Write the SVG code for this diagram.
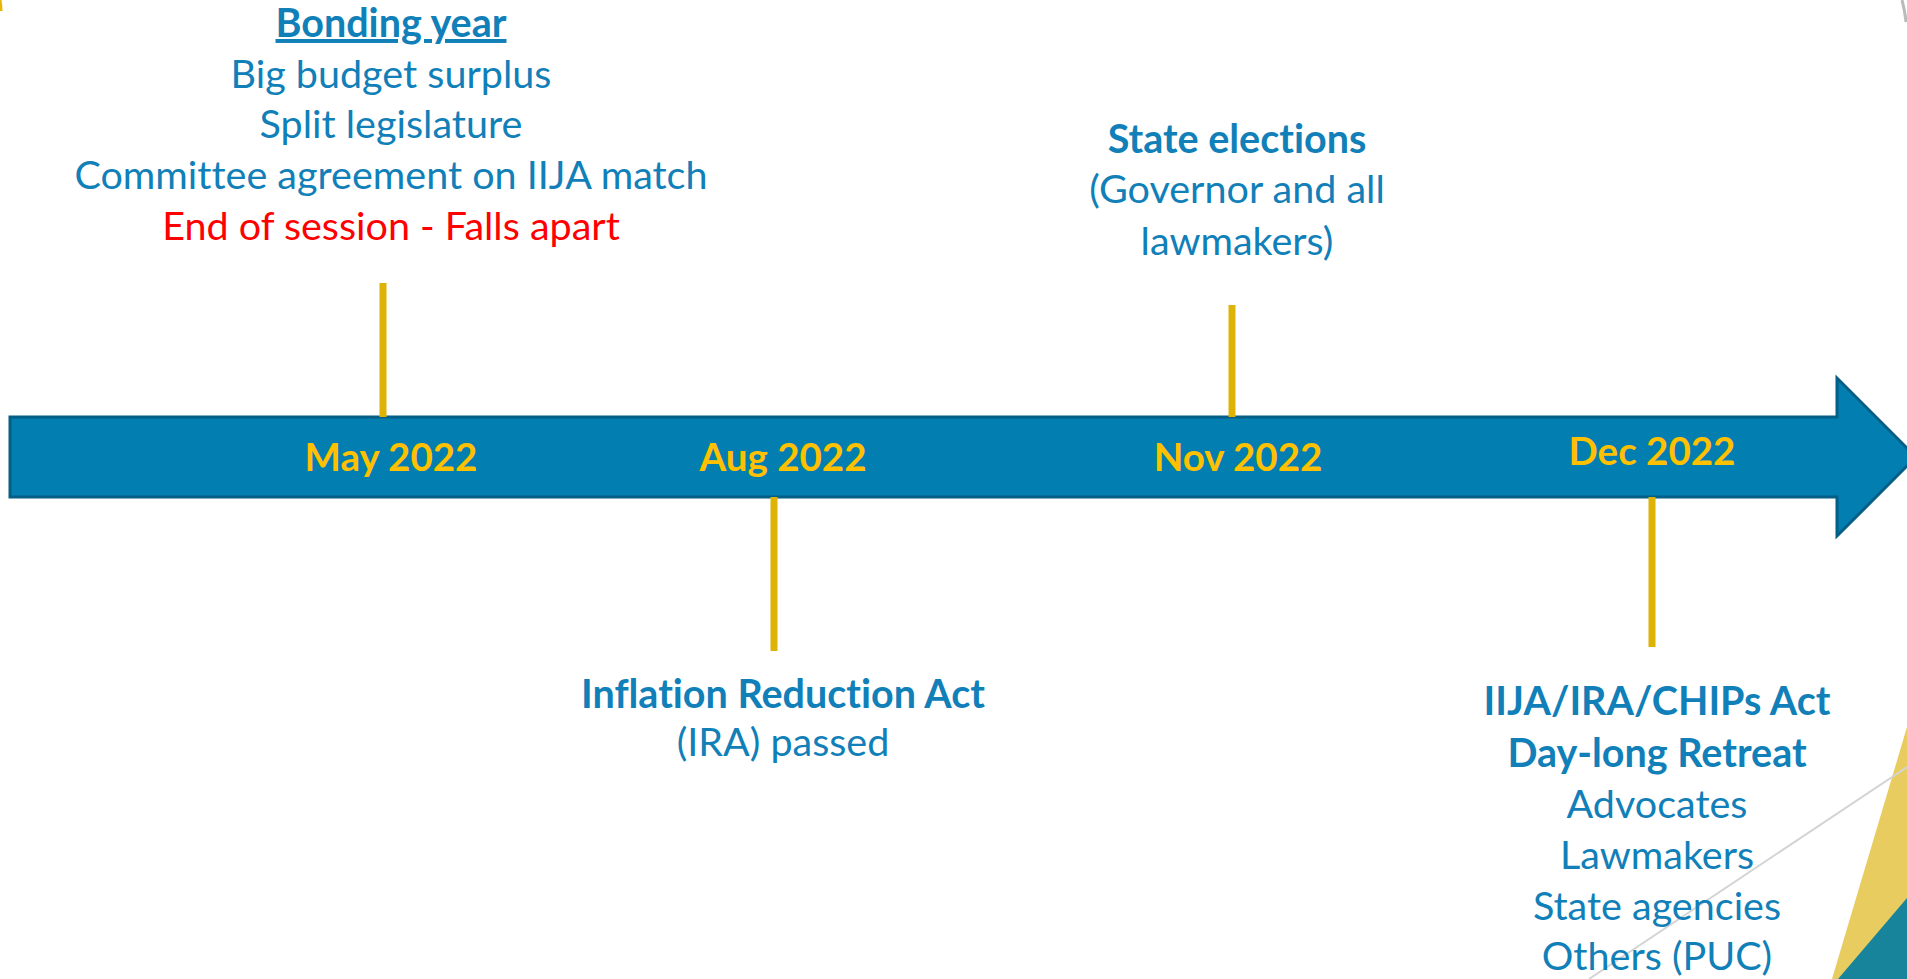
<svg xmlns="http://www.w3.org/2000/svg" width="1907" height="979" viewBox="0 0 1907 979">
  <style>
    .t { font-family: "Lato", "Liberation Sans", sans-serif; font-size: 39.5px; fill: #1180B8; text-anchor: middle; font-variant-ligatures: none; }
    .b { font-weight: bold; }
    .red { fill: #FF0000; }
    .date { font-family: "Lato", "Liberation Sans", sans-serif; font-size: 38.5px; font-weight: bold; fill: #FFC000; text-anchor: middle; }
    .tick { stroke: #DDB406; stroke-width: 7; fill: none; }
  </style>
  <rect width="1907" height="979" fill="#FFFFFF"/>

  <g id="decoration">
    <path d="M0,0 Q1,6 1,11" stroke="#E8B800" stroke-width="3" fill="none"/>
    <path d="M1902,0 Q1905,11 1906,22" stroke="#BBBBBB" stroke-width="3" fill="none"/>
    <polygon points="1832,979 1907,727 1907,979" fill="#E8CC5F"/>
    <polygon points="1838,979 1907,898 1907,979" fill="#18849C"/>
    <line x1="1589" y1="979" x2="1907" y2="767" stroke="#D4D4D4" stroke-width="2"/>
  </g>

  <g id="timeline">
    <path d="M10,417 L1837,417 L1837,378 L1916,457 L1837,536 L1837,497 L10,497 Z" fill="#027EB0" stroke="#055E85" stroke-width="3" stroke-linejoin="miter"/>
  </g>

  <g id="connectors">
    <line class="tick" x1="383" y1="283" x2="383" y2="417"/>
    <line class="tick" x1="774" y1="497" x2="774" y2="651"/>
    <line class="tick" x1="1232" y1="305" x2="1232" y2="417"/>
    <line class="tick" x1="1652" y1="497" x2="1652" y2="647"/>
  </g>

  <g id="may-2022">
    <text class="date" x="391" y="471">May 2022</text>
    <text class="t b" x="391" y="37" text-decoration="underline">Bonding year</text>
    <text class="t" x="391" y="88">Big budget surplus</text>
    <text class="t" x="391" y="138">Split legislature</text>
    <text class="t" x="391" y="189">Committee agreement on IIJA match</text>
    <text class="t red" x="391" y="240">End of session - Falls apart</text>
  </g>

  <g id="aug-2022">
    <text class="date" x="783" y="471">Aug 2022</text>
    <text class="t b" x="783" y="708">Inflation Reduction Act</text>
    <text class="t" x="783" y="756">(IRA) passed</text>
  </g>

  <g id="nov-2022">
    <text class="date" x="1238" y="471">Nov 2022</text>
    <text class="t b" x="1237" y="153">State elections</text>
    <text class="t" x="1237" y="203">(Governor and all</text>
    <text class="t" x="1237" y="255">lawmakers)</text>
  </g>

  <g id="dec-2022">
    <text class="date" x="1652" y="465">Dec 2022</text>
    <text class="t b" x="1657" y="715">IIJA/IRA/CHIPs Act</text>
    <text class="t b" x="1657" y="767">Day-long Retreat</text>
    <text class="t" x="1657" y="818">Advocates</text>
    <text class="t" x="1657" y="869">Lawmakers</text>
    <text class="t" x="1657" y="920">State agencies</text>
    <text class="t" x="1657" y="970">Others (PUC)</text>
  </g>
</svg>
